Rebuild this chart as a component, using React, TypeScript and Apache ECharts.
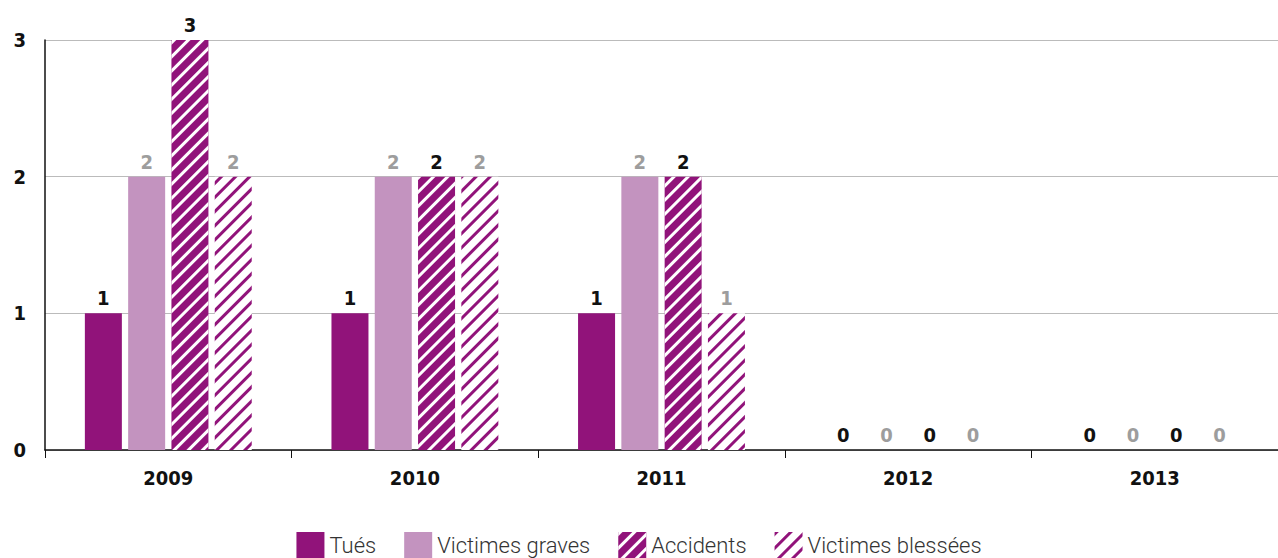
import React, { useEffect, useRef } from "react";
import * as echarts from "echarts";

const years = ["2009", "2010", "2011", "2012", "2013"];
const tues = [1, 1, 1, 0, 0];
const victimesGraves = [2, 2, 2, 0, 0];
const accidents = [3, 2, 2, 0, 0];
const victimesBlessees = [2, 2, 1, 0, 0];
const yTicks = [0, 1, 2, 3];

const PURPLE = "#91137a";
const LIGHT = "#c393bf";
const GREY_LABEL = "#9d9d9d";
const BOLD_FONT = "'DejaVu Sans Condensed', 'DejaVu Sans', sans-serif";
const LIGHT_FONT = "Roboto, 'Liberation Sans', sans-serif";

export default function App() {
  const ref = useRef<HTMLDivElement>(null);
  useEffect(() => {
    if (!ref.current) return;
    const chart = echarts.init(ref.current, undefined, { renderer: "svg" });
    const label = (color: string) => ({
      show: true,
      position: "top" as const,
      distance: 5,
      color,
      fontFamily: BOLD_FONT,
      fontWeight: "bold" as const,
      fontSize: 20,
    });
    const stripe = (color: string) => ({
      symbol: "rect",
      symbolSize: 1,
      color,
      dashArrayX: [1, 0],
      dashArrayY: [3, 7],
      rotation: -Math.PI / 4,
    });
    chart.setOption({
      animation: false,
      backgroundColor: "#ffffff",
      grid: { left: 45, right: 0, top: 40, bottom: 108, containLabel: false },
      legend: {
        top: 527,
        left: "center",
        icon: "rect",
        itemWidth: 28,
        itemHeight: 27,
        itemGap: 28,
        textStyle: { fontFamily: LIGHT_FONT, fontWeight: 300, fontSize: 22, color: "#333", lineHeight: 27 },
        data: ["Tués", "Victimes graves", "Accidents", "Victimes blessées"],
      },
      xAxis: {
        type: "category",
        data: years,
        axisLine: { lineStyle: { color: "#111", width: 1.5 } },
        axisTick: { show: true, length: 8, lineStyle: { color: "#111" } },
        axisLabel: {
          margin: 18,
          color: "#111",
          fontFamily: BOLD_FONT,
          fontWeight: "bold",
          fontSize: 20,
        },
      },
      yAxis: {
        type: "value",
        min: yTicks[0],
        max: yTicks[yTicks.length - 1],
        interval: 1,
        axisLine: { show: true, lineStyle: { color: "#111", width: 1.5 } },
        axisTick: { show: false },
        splitLine: { lineStyle: { color: "#bbbbbb" } },
        axisLabel: {
          margin: 19,
          color: "#111",
          fontFamily: BOLD_FONT,
          fontWeight: "bold",
          fontSize: 20,
        },
      },
      series: [
        {
          name: "Tués",
          type: "bar",
          data: tues,
          barWidth: 37,
          barGap: "17%",
          itemStyle: { color: PURPLE },
          label: label("#111"),
        },
        {
          name: "Victimes graves",
          type: "bar",
          data: victimesGraves,
          barWidth: 37,
          barGap: "17%",
          itemStyle: { color: LIGHT },
          label: label(GREY_LABEL),
        },
        {
          name: "Accidents",
          type: "bar",
          data: accidents,
          barWidth: 37,
          barGap: "17%",
          itemStyle: { color: PURPLE, decal: stripe("#ffffff") },
          label: label("#111"),
        },
        {
          name: "Victimes blessées",
          type: "bar",
          data: victimesBlessees,
          barWidth: 37,
          barGap: "17%",
          itemStyle: { color: "#ffffff", decal: stripe(PURPLE) },
          label: label(GREY_LABEL),
        },
      ],
    });
    return () => chart.dispose();
  }, []);
  return (
    <div
      ref={ref}
      style={{ position: "fixed", left: 0, top: 0, width: 1278, height: 558 }}
    />
  );
}
